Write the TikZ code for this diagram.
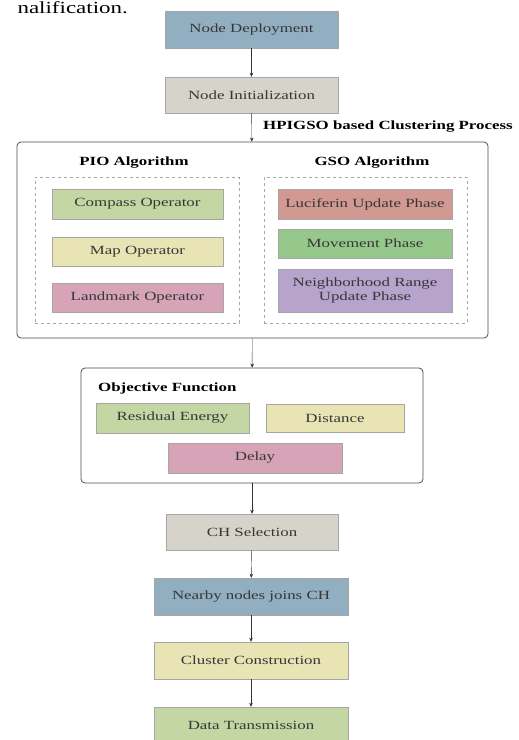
\documentclass[tikz,border=0pt]{standalone}
\usepackage{fontspec}
\setmainfont{Liberation Serif}[FakeStretch=1.35]
\usepackage{xcolor}
\usetikzlibrary{arrows.meta}
\definecolor{steel}{RGB}{146,174,193}
\definecolor{stone}{RGB}{214,211,203}
\definecolor{sage}{RGB}{196,214,163}
\definecolor{cream}{RGB}{233,228,180}
\definecolor{rose}{RGB}{214,164,182}
\definecolor{salmon}{RGB}{210,152,146}
\definecolor{mint}{RGB}{150,200,140}
\definecolor{lilac}{RGB}{182,164,204}
\definecolor{inkgray}{RGB}{55,55,55}
\tikzset{
  stepbox/.style={draw=gray!70,thin,inner sep=1pt,align=center,text=inkgray,
    font=\fontsize{12.5}{13.5}\selectfont},
  group/.style={draw=gray!60!black,thick,rounded corners=4pt},
  subgroup/.style={draw=gray!70,dashed,thin},
  heading/.style={font=\bfseries\fontsize{12.5}{14}\selectfont},
  flow/.style={thin,draw=black!80,-{Stealth[length=4pt,width=3.5pt]}}
}

\begin{document}
\begin{tikzpicture}[x=1pt,y=-1pt]
  \useasboundingbox (0,0) rectangle (519,740);
  \node[anchor=base east,font=\fontsize{17}{19}\selectfont,inner sep=0pt] (cap) at (128,13.5) {nalification.};

  % main chain, top part
  \node[stepbox,fill=steel,minimum width=173pt,minimum height=37pt] (dep) at (251.5,29.5) {Node Deployment};
  \node[stepbox,fill=stone,minimum width=173pt,minimum height=36pt] (ini) at (251.5,95) {Node Initialization};

  % clustering block
  \node[group,minimum width=471pt,minimum height=196pt] (clu) at (252.5,240) {};
  \node[heading,anchor=west,inner xsep=0pt] (clut) at (263,127) {HPIGSO based Clustering Process};
  \node[heading] (piot) at (134,163) {PIO Algorithm};
  \node[heading] (gsot) at (372,163) {GSO Algorithm};
  \node[subgroup,minimum width=204pt,minimum height=146pt] (pio) at (137,250) {};
  \node[subgroup,minimum width=203pt,minimum height=146pt] (gso) at (365.5,250) {};

  \node[stepbox,fill=sage,minimum width=171pt,minimum height=30pt] (comp) at (137.5,204) {Compass Operator};
  \node[stepbox,fill=cream,minimum width=171pt,minimum height=29pt] (map) at (137.5,251.5) {Map Operator};
  \node[stepbox,fill=rose,minimum width=171pt,minimum height=29pt] (land) at (137.5,297.5) {Landmark Operator};

  \node[stepbox,fill=salmon,minimum width=174pt,minimum height=30pt] (luc) at (365,204) {Luciferin Update Phase};
  \node[stepbox,fill=mint,minimum width=174pt,minimum height=29pt] (mov) at (365,243.5) {Movement Phase};
  \node[stepbox,fill=lilac,minimum width=174pt,minimum height=43pt] (nbr) at (365,290.5) {Neighborhood Range\\Update Phase};

  % objective function block
  \node[group,minimum width=342pt,minimum height=115pt] (obj) at (252,425.5) {};
  \node[heading,anchor=west,inner xsep=0pt] (objt) at (98,388) {Objective Function};
  \node[stepbox,fill=sage,minimum width=153pt,minimum height=30pt] (res) at (172.5,418) {Residual Energy};
  \node[stepbox,fill=cream,minimum width=138pt,minimum height=28pt] (dis) at (335,418) {Distance};
  \node[stepbox,fill=rose,minimum width=174pt,minimum height=30pt] (del) at (255,458) {Delay};

  % main chain, bottom part
  \node[stepbox,fill=stone,minimum width=172pt,minimum height=36pt] (chs) at (252,532) {CH Selection};
  \node[stepbox,fill=steel,minimum width=194pt,minimum height=37pt] (join) at (251,596.5) {Nearby nodes joins CH};
  \node[stepbox,fill=cream,minimum width=194pt,minimum height=37pt] (cons) at (251,660.5) {Cluster Construction};
  \node[stepbox,fill=sage,minimum width=194pt,minimum height=37pt] (data) at (251,725.5) {Data Transmission};

  \draw[flow] (dep) -- (ini);
  \draw[flow] (ini) -- (clu);
  \draw[flow] (clu) -- (obj);
  \draw[flow] (obj) -- (chs);
  \draw[flow] (chs) -- (join);
  \draw[flow] (join) -- (cons);
  \draw[flow] (cons) -- (data);
\end{tikzpicture}
\end{document}
